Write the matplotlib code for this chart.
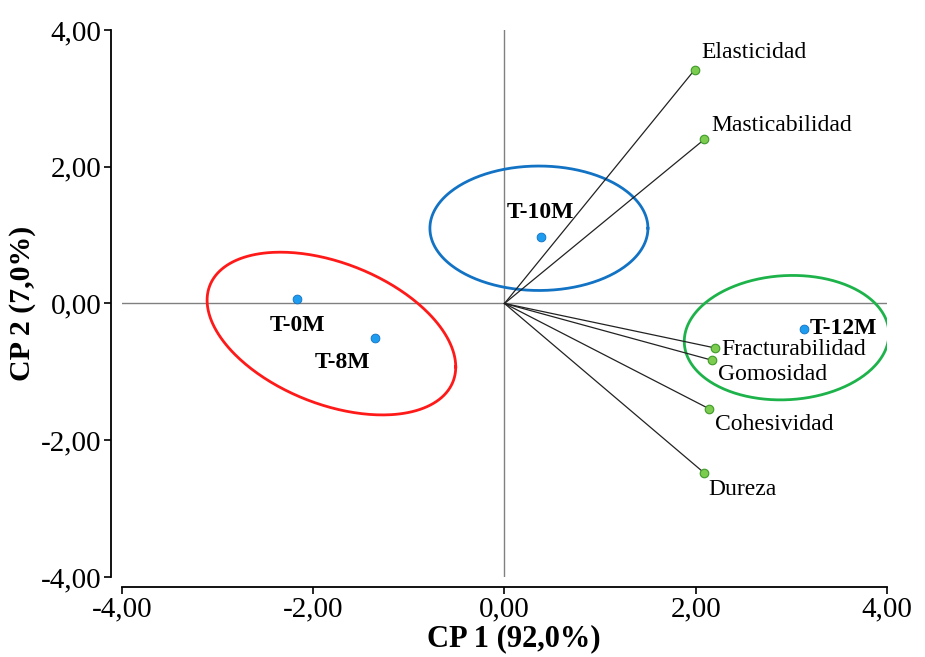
import numpy as np
import matplotlib
matplotlib.use("Agg")
import matplotlib.pyplot as plt
from matplotlib.ticker import FuncFormatter

plt.rcParams["font.family"] = ["Liberation Serif", "DejaVu Serif"]

# ── data ──────────────────────────────────────────────────────────
samples = ["T-0M", "T-8M", "T-10M", "T-12M"]
sample_x = [-2.17, -1.35, 0.38, 3.13]
sample_y = [0.07, -0.50, 0.97, -0.38]

variables = ["Elasticidad", "Masticabilidad", "Fracturabilidad",
             "Gomosidad", "Cohesividad", "Dureza"]
var_x = [1.99, 2.09, 2.20, 2.17, 2.14, 2.09]
var_y = [3.42, 2.40, -0.65, -0.83, -1.54, -2.48]

# groups: centre x, centre y, half width, half height, correlation
group_cx = [-1.81, 0.36, 2.95]
group_cy = [-0.44, 1.10, -0.50]
group_w = [1.30, 1.14, 1.07]
group_h = [1.19, 0.91, 0.91]
group_r = [-0.41, 0.0, 0.06]
group_col = ["#ff1a1a", "#1272c4", "#1db34a"]

ticks = [-4, -2, 0, 2, 4]

# ── figure ────────────────────────────────────────────────────────
fig = plt.figure(figsize=(9.25, 6.57), dpi=100)
ax = fig.add_axes([0.1319, 0.1218, 0.827, 0.8326])
ax.set_xlim(-4, 4)
ax.set_ylim(-4, 4)

ax.axhline(0, color="#808080", lw=1.0, zorder=1)
ax.axvline(0, color="#808080", lw=1.0, zorder=1)

# ellipses
t = np.linspace(0, 2 * np.pi, 300)
for cx, cy, w, h, r, c in zip(group_cx, group_cy, group_w, group_h, group_r, group_col):
    ex = cx + w * np.cos(t)
    ey = cy + h * (r * np.cos(t) + np.sqrt(1 - r * r) * np.sin(t))
    ax.plot(ex, ey, color=c, lw=2.0, zorder=2)

# loading vectors
for x, y in zip(var_x, var_y):
    ax.plot([0, x], [0, y], color="#222222", lw=0.9, zorder=3)
ax.scatter(var_x, var_y, s=38, color="#7ccc50", edgecolors="#3f9a2a",
           linewidths=0.8, zorder=4)

ax.scatter(sample_x, sample_y, s=40, color="#1e9cf0", edgecolors="#1070c0",
           linewidths=0.6, zorder=5)

# sample labels (offsets in points)
s_off = [(0, -12), (-4, -10), (0, 10), (4, 1)]
s_ha = ["center", "right", "center", "left"]
s_va = ["top", "top", "bottom", "center"]
for lab, x, y, o, ha, va in zip(samples, sample_x, sample_y, s_off, s_ha, s_va):
    ax.annotate(lab, (x, y), xytext=o, textcoords="offset points",
                ha=ha, va=va, fontsize=17, fontweight="bold")

v_off = [(5, 12), (5, 10), (5, -1.5), (4, -10), (4, -11), (3, -12)]
for lab, x, y, o in zip(variables, var_x, var_y, v_off):
    ax.annotate(lab, (x, y), xytext=o, textcoords="offset points",
                ha="left", va="center", fontsize=17)

# ── axes styling ──────────────────────────────────────────────────
for s in ["top", "right"]:
    ax.spines[s].set_visible(False)
ax.spines["left"].set_position(("outward", 8))
ax.spines["bottom"].set_position(("outward", 7))
for s in ["left", "bottom"]:
    ax.spines[s].set_linewidth(1.3)

fmt = FuncFormatter(lambda v, p: f"{v:.2f}".replace(".", ","))
ax.set_xticks(ticks)
ax.set_yticks(ticks)
ax.xaxis.set_major_formatter(fmt)
ax.yaxis.set_major_formatter(fmt)
ax.tick_params(labelsize=21, length=5, width=1.2, pad=2)

ax.set_xlabel("CP 1 (92,0%)", fontsize=22, fontweight="bold")
ax.set_ylabel("CP 2 (7,0%)", fontsize=21.5, fontweight="bold")
ax.xaxis.set_label_coords(0.512, -0.087)
ax.yaxis.set_label_coords(-0.112, 0.5)

fig.savefig("out.png", dpi=100)
